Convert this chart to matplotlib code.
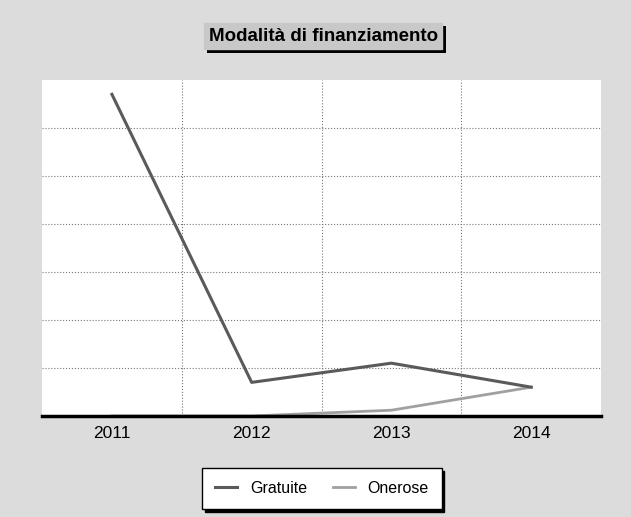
import matplotlib.pyplot as plt
import matplotlib.patheffects as pe

# Data (arbitrary units, no y labels shown)
years = ["2011", "2012", "2013", "2014"]
gratuite = [67, 7, 11, 6]
onerose = [0, 0, 1.2, 6]

plt.rcParams['font.family'] = ['Liberation Sans', 'DejaVu Sans']

fig = plt.figure(figsize=(6.31, 5.17), dpi=100)
fig.patch.set_facecolor("#dcdcdc")
ax = fig.add_axes([0.0666, 0.1954, 0.886, 0.65])
ax.set_facecolor("white")

x = range(len(years))
ax.plot(x, onerose, color="#a0a0a0", lw=2, label="Onerose", zorder=3)
ax.plot(x, gratuite, color="#5a5a5a", lw=2.2, label="Gratuite", zorder=4)

ax.set_xlim(-0.5, 3.5)
ax.set_ylim(0, 70)
ax.set_xticks(list(x))
ax.set_xticklabels(years, fontsize=12.5)
ax.set_yticks(range(10, 70, 10))
ax.set_yticklabels([])
ax.set_xticks([0.5, 1.5, 2.5], minor=True)
ax.tick_params(which="both", length=0, pad=7)
ax.grid(True, axis="y", which="major", color="#777777", ls=":", lw=0.8)
ax.grid(True, axis="x", which="minor", color="#777777", ls=":", lw=0.8)
for s in ["top", "left", "right"]:
    ax.spines[s].set_visible(False)
ax.spines["bottom"].set_linewidth(2.5)
ax.spines["bottom"].set_zorder(5)

# title box with a black drop shadow
title = fig.text(0.512, 0.930, "Modalità di finanziamento",
                 ha="center", va="center", fontsize=13.5, fontweight="bold",
                 color="black",
                 bbox=dict(boxstyle="square,pad=0.25", fc="#c8c8c8", ec="#c8c8c8"))
title.get_bbox_patch().set_path_effects(
    [pe.SimplePatchShadow(offset=(2.5, -2.5), shadow_rgbFace="black", alpha=1),
     pe.Normal()])

h, l = ax.get_legend_handles_labels()
leg = fig.legend(h[::-1], l[::-1], loc="center", bbox_to_anchor=(0.51, 0.055),
                 ncol=2, fontsize=11.5, frameon=True, fancybox=False,
                 edgecolor="black", handlelength=1.4, columnspacing=1.6,
                 borderpad=0.8, shadow={"color": "black", "alpha": 1})
leg.get_frame().set_linewidth(1)

fig.savefig("out.png", dpi=100, facecolor=fig.get_facecolor())
